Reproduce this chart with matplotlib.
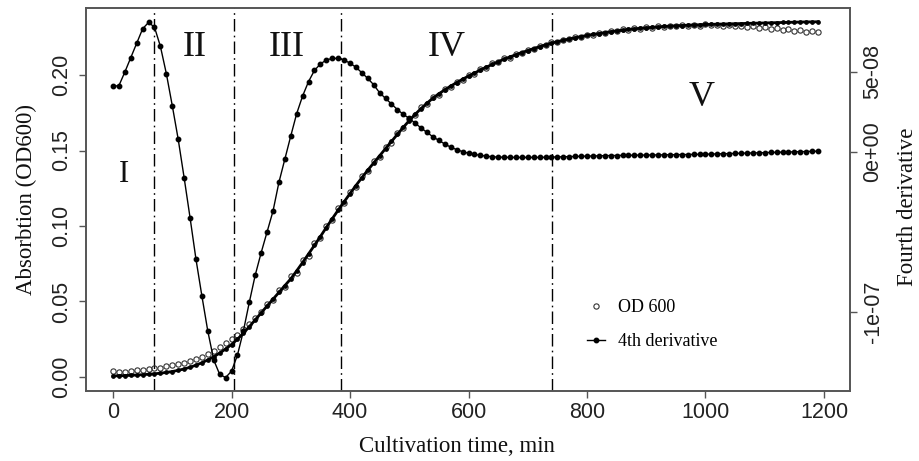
import numpy as np
import matplotlib
matplotlib.use("Agg")
import matplotlib.pyplot as plt

# sampling grid, minutes
time_min = np.arange(0, 1200, 10)

# OD600 measured (open circles)
od_obs = [0.0040, 0.0032, 0.0036, 0.0041, 0.0045, 0.0047, 0.0055, 0.0060, 0.0062, 0.0070,
          0.0076, 0.0083, 0.0093, 0.0104, 0.0117, 0.0133, 0.0152, 0.0172, 0.0196, 0.0222,
          0.0250, 0.0281, 0.0315, 0.0350, 0.0392, 0.0430, 0.0482, 0.0509, 0.0575, 0.0598,
          0.0667, 0.0690, 0.0772, 0.0803, 0.0889, 0.0918, 0.1003, 0.1037, 0.1118, 0.1152,
          0.1226, 0.1259, 0.1331, 0.1362, 0.1428, 0.1457, 0.1522, 0.1553, 0.1615, 0.1646,
          0.1706, 0.1733, 0.1786, 0.1808, 0.1855, 0.1870, 0.1909, 0.1921, 0.1957, 0.1967,
          0.2000, 0.2008, 0.2040, 0.2047, 0.2077, 0.2083, 0.2111, 0.2116, 0.2141, 0.2145,
          0.2168, 0.2171, 0.2193, 0.2196, 0.2216, 0.2218, 0.2235, 0.2236, 0.2252, 0.2252,
          0.2267, 0.2266, 0.2281, 0.2278, 0.2292, 0.2289, 0.2302, 0.2299, 0.2311, 0.2307,
          0.2318, 0.2313, 0.2323, 0.2318, 0.2328, 0.2322, 0.2331, 0.2326, 0.2334, 0.2328,
          0.2336, 0.2329, 0.2334, 0.2327, 0.2331, 0.2322, 0.2328, 0.2318, 0.2325, 0.2312,
          0.2318, 0.2305, 0.2312, 0.2298, 0.2306, 0.2292, 0.2300, 0.2288, 0.2294, 0.2286]

# OD600 smoothed curve (solid black)
od_fit = [0.0007, 0.0008, 0.0009, 0.0011, 0.0013, 0.0015, 0.0018, 0.0021, 0.0025, 0.0030,
          0.0036, 0.0044, 0.0053, 0.0064, 0.0078, 0.0094, 0.0113, 0.0134, 0.0158, 0.0185,
          0.0215, 0.0250, 0.0290, 0.0333, 0.0378, 0.0424, 0.0470, 0.0515, 0.0560, 0.0605,
          0.0650, 0.0703, 0.0758, 0.0815, 0.0872, 0.0930, 0.0990, 0.1048, 0.1105, 0.1160,
          0.1215, 0.1268, 0.1320, 0.1370, 0.1418, 0.1465, 0.1513, 0.1560, 0.1607, 0.1654,
          0.1698, 0.1740, 0.1778, 0.1814, 0.1847, 0.1876, 0.1902, 0.1927, 0.1950, 0.1972,
          0.1993, 0.2013, 0.2033, 0.2052, 0.2070, 0.2088, 0.2105, 0.2120, 0.2135, 0.2149,
          0.2162, 0.2175, 0.2188, 0.2200, 0.2211, 0.2221, 0.2230, 0.2239, 0.2247, 0.2255,
          0.2262, 0.2269, 0.2275, 0.2281, 0.2287, 0.2292, 0.2297, 0.2302, 0.2306, 0.2310,
          0.2313, 0.2316, 0.2319, 0.2322, 0.2324, 0.2326, 0.2328, 0.2330, 0.2332, 0.2333,
          0.2335, 0.2336, 0.2337, 0.2338, 0.2339, 0.2340, 0.2341, 0.2342, 0.2343, 0.2344,
          0.2345, 0.2346, 0.2347, 0.2348, 0.2349, 0.2350, 0.2351, 0.2352, 0.2352, 0.2353]

# fourth derivative, in units of 1e-8
d4_e8 = [4.10, 4.15, 5.00, 5.90, 6.80, 7.70, 8.10, 7.80, 6.60, 4.90,
         2.90, 0.80, -1.60, -4.10, -6.70, -9.00, -11.20, -13.00, -13.90, -14.10,
         -13.70, -12.70, -11.20, -9.40, -7.70, -6.30, -5.00, -3.70, -1.90, -0.45,
         1.00, 2.40, 3.50, 4.40, 5.10, 5.50, 5.75, 5.85, 5.85, 5.75,
         5.55, 5.30, 4.95, 4.60, 4.20, 3.70, 3.35, 3.00, 2.65, 2.35,
         2.10, 1.80, 1.50, 1.22, 0.95, 0.72, 0.50, 0.30, 0.15, 0.02,
         -0.08, -0.15, -0.21, -0.26, -0.30, -0.32, -0.33, -0.34, -0.34, -0.34,
         -0.34, -0.34, -0.34, -0.33, -0.32, -0.31, -0.30, -0.29, -0.28, -0.27,
         -0.26, -0.25, -0.24, -0.23, -0.22, -0.22, -0.21, -0.21, -0.20, -0.20,
         -0.19, -0.19, -0.18, -0.18, -0.17, -0.17, -0.16, -0.16, -0.15, -0.15,
         -0.14, -0.13, -0.12, -0.11, -0.10, -0.09, -0.08, -0.07, -0.06, -0.05,
         -0.04, -0.03, -0.02, -0.01, 0.00, 0.01, 0.02, 0.03, 0.04, 0.05]
d4 = np.array(d4_e8) * 1e-8

# phase boundaries and labels
phase_bounds = [70, 204, 385, 741]
phase_names = ["I", "II", "III", "IV", "V"]
phase_pos = [(19, 0.134), (138, 0.2185), (294, 0.2185), (564, 0.2185), (994, 0.1854)]
phase_size = [22, 26, 26, 26, 26]

x_ticks = [0, 200, 400, 600, 800, 1000, 1200]
od_ticks = [0.00, 0.05, 0.10, 0.15, 0.20]
d4_ticks = [-1e-7, 0, 5e-8]
d4_tick_labels = ["-1e-07", "0e+00", "5e-08"]

serif = "Liberation Serif"
sans = "Liberation Sans"
frame_col = "#555555"
text_col = "#222222"

fig = plt.figure(figsize=(9.2, 4.61), dpi=100)
ax = fig.add_axes([86 / 920, 1 - 391 / 461, 764 / 920, 383 / 461])
ax2 = ax.twinx()

ax.plot(time_min, od_obs, linestyle="none", marker="o", ms=3.8, mfc="none",
        mec="#333333", mew=0.8, label="OD 600", zorder=3)
ax.plot(time_min, od_fit, color="black", lw=2.0, marker="o", ms=2.4, zorder=4)

ax2.plot(time_min, d4, color="black", lw=1.0, marker="o", ms=3.2, label="4th derivative")

for b in phase_bounds:
    ax.axvline(b, color="black", lw=1.0, linestyle=(0, (9, 3, 1.2, 3)), zorder=2)

for name, (px, py), fs in zip(phase_names, phase_pos, phase_size):
    ax.text(px, py, name, fontsize=fs, family=serif, ha="center", va="center", color="#111111")

ax.set_xlim(-45.6, 1243.9)
ax.set_ylim(-0.0093, 0.2444)
ax2.set_ylim(-1.494e-7, 9.0e-8)

ax.set_xticks(x_ticks)
ax.set_xticklabels([str(v) for v in x_ticks], family=sans, fontsize=15.5, color=text_col)
ax.set_yticks(od_ticks)
ax.set_yticklabels([f"{v:.2f}" for v in od_ticks], family=sans, fontsize=15.5,
                   color=text_col, rotation=90, va="center")
ax2.set_yticks(d4_ticks)
ax2.set_yticklabels(d4_tick_labels, family=sans, fontsize=15.5, color=text_col,
                    rotation=90, va="center")

ax.tick_params(axis="x", direction="out", length=5, width=1, color=frame_col, pad=3)
ax.tick_params(axis="y", direction="out", length=5, width=1, color=frame_col, pad=5)
ax2.tick_params(axis="y", direction="out", length=5, width=1, color=frame_col, pad=4)

for a in (ax, ax2):
    for s in a.spines.values():
        s.set_color(frame_col)
        s.set_linewidth(1.2)

ax.set_xlabel("Cultivation time, min", family=serif, fontsize=16.5, color="#111111")
ax.xaxis.set_label_coords(0.485, -0.118)
ax.set_ylabel("Absorbtion (OD600)", family=serif, fontsize=16.5, color="#111111")
ax.yaxis.set_label_coords(-0.064, 0.5)
ax2.set_ylabel("Fourth derivative", family=serif, fontsize=16.5, color="#111111")
ax2.yaxis.set_label_coords(1.0615, 0.48)

h1, l1 = ax.get_legend_handles_labels()
h2, l2 = ax2.get_legend_handles_labels()
leg = ax.legend(h1 + h2, l1 + l2, loc="center left", bbox_to_anchor=(0.6466, 0.1736),
                frameon=False, handlelength=1.0, handletextpad=0.7, labelspacing=0.95,
                prop={"family": serif, "size": 13}, borderaxespad=0)
leg.set_zorder(10)

fig.savefig("out.png", dpi=100)
